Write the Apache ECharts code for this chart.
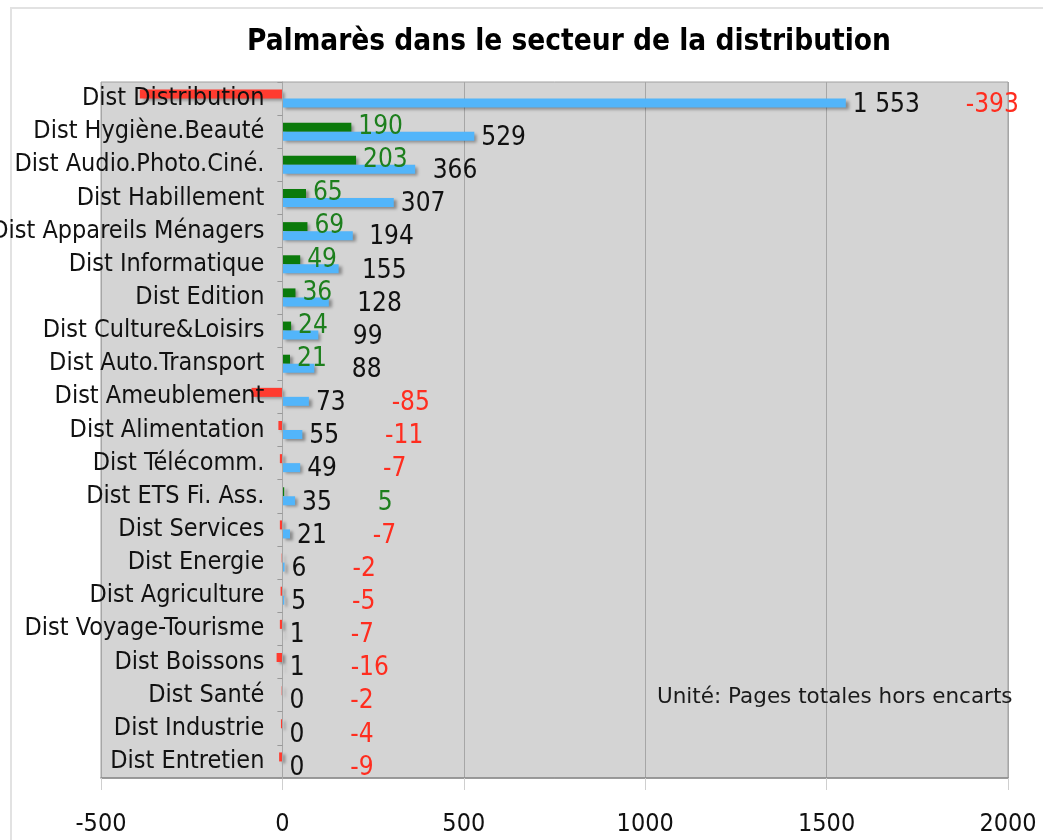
<!DOCTYPE html>
<html><head><meta charset="utf-8">
<script src="https://cdn.jsdelivr.net/npm/echarts@6/dist/echarts.min.js"></script>
<style>html,body{margin:0;padding:0;background:#fff}#c{width:1043px;height:840px}</style>
</head><body><div id="c"></div>
<script>
const categories = ['Dist Distribution','Dist Hygiène.Beauté','Dist Audio.Photo.Ciné.','Dist Habillement','Dist Appareils Ménagers','Dist Informatique','Dist Edition','Dist Culture&Loisirs','Dist Auto.Transport','Dist Ameublement','Dist Alimentation','Dist Télécomm.','Dist ETS Fi. Ass.','Dist Services','Dist Energie','Dist Agriculture','Dist Voyage-Tourisme','Dist Boissons','Dist Santé','Dist Industrie','Dist Entretien'];
const pages = [1553,529,366,307,194,155,128,99,88,73,55,49,35,21,6,5,1,1,0,0,0];
const evolution = [-393,190,203,65,69,49,36,24,21,-85,-11,-7,5,-7,-2,-5,-7,-16,-2,-4,-9];
const xMin = -500, xMax = 2000, xStep = 500;
const titleText = 'Palmarès dans le secteur de la distribution';
const unitText = 'Unité: Pages totales hors encarts';

const FONT = '"DejaVu Sans Condensed","DejaVu Sans",sans-serif';
const BLUE = '#52b5fa', GREEN = '#0b7a0b', RED = '#ff3b2f';
const GREEN_T = '#1d7f1d', RED_T = '#ff2d1f';
const LBL = 26;
const GRID_LEFT = 101;
const fmt = v => String(v).replace(/\B(?=(\d{3})+(?!\d))/g, ' ');
const onBar = evolution.map(v => v >= 20);

const chart = echarts.init(document.getElementById('c'));
const shadow = {shadowColor:'rgba(0,0,0,0.35)', shadowBlur:3, shadowOffsetX:3, shadowOffsetY:2};

function build(pagesData, evoData, yOffset){
  return {
    animation:false,
    backgroundColor:'#fff',
    graphic:[
      {type:'rect', shape:{x:11,y:8,width:1200,height:1000}, style:{fill:'none', stroke:'#e2e2e2', lineWidth:2}, silent:true, z:-10},
      {type:'text', x:569, y:42, style:{text:titleText, font:'bold 29.5px '+FONT, fill:'#000', textAlign:'center', textVerticalAlign:'middle'}},
      {type:'text', x:657, y:697, z:100, style:{text:unitText, font:'21.5px "DejaVu Sans",Verdana,sans-serif', fill:'#1a1a1a', textAlign:'left', textVerticalAlign:'middle'}}
    ],
    grid:{left:GRID_LEFT, right:35, top:82, bottom:62, outerBoundsMode:'none', containLabel:false, show:true, backgroundColor:'#d4d4d4', borderColor:'#a0a0a0', borderWidth:1},
    xAxis:{type:'value', min:xMin, max:xMax, interval:xStep,
      axisLine:{show:true, lineStyle:{color:'#8a8a8a', width:1.5}},
      axisTick:{show:true, length:12, lineStyle:{color:'#cfcfcf'}},
      splitLine:{show:true, lineStyle:{color:'#a6a6a6', width:1}},
      axisLabel:{fontFamily:FONT, fontSize:25, color:'#111', margin:34, formatter:v => String(v)}},
    yAxis:{type:'category', data:categories, inverse:true, offset:yOffset, z:5,
      axisLine:{show:true, onZero:false, lineStyle:{color:'#a6a6a6'}},
      axisTick:{show:true, length:5, lineStyle:{color:'#999'}},
      axisLabel:{fontFamily:FONT, fontSize:25, color:'#111', margin:18, interval:0, padding:[5,0,0,0]}},
    series:[
      {name:'Évolution', type:'bar', barWidth:9, barGap:'0%', data:evoData,
        itemStyle:Object.assign({}, shadow),
        label:{show:true, position:'right', distance:7, fontFamily:FONT, fontSize:LBL, color:GREEN_T,
          formatter:p => fmt(p.value)}},
      {name:'Pages', type:'bar', barWidth:9, barGap:'0%', data:pagesData,
        itemStyle:Object.assign({color:BLUE}, shadow),
        label:{show:true, position:'right', distance:7,
          formatter:p => {
            const i = p.dataIndex, e = evolution[i];
            let s = '{v|' + fmt(p.value) + '}';
            if (!onBar[i]) s += '{' + (e >= 0 ? 'g' : 'r') + '|' + fmt(e) + '}';
            return s;
          },
          rich:{
            v:{fontFamily:FONT, fontSize:LBL, color:'#111'},
            r:{fontFamily:FONT, fontSize:LBL, color:RED_T, padding:[0,0,0,46]},
            g:{fontFamily:FONT, fontSize:LBL, color:GREEN_T, padding:[0,0,0,46]}
          }}}
    ]
  };
}

const evoData = evolution.map((v,i) => ({value:v, itemStyle:{color: v >= 0 ? GREEN : RED}, label:{show:onBar[i]}}));
chart.setOption(build(pages.map(v => ({value:v})), evoData, 0));

const px = v => chart.convertToPixel({xAxisIndex:0}, v);
const ctx = document.createElement('canvas').getContext('2d');
ctx.font = LBL + 'px ' + FONT;
const tw = s => ctx.measureText(s).width;
const pagesData = pages.map((v,i) => {
  let dx = 0;
  if (onBar[i]) {
    const need = px(evolution[i]) + 7 + tw(fmt(evolution[i])) + 25;
    dx = Math.max(0, need - (px(v) + 7));
  }
  return {value:v, label:{offset:[dx, 2]}};
});
const yOffset = -(px(0) - GRID_LEFT);
chart.setOption(build(pagesData, evoData, yOffset));
</script></body></html>
